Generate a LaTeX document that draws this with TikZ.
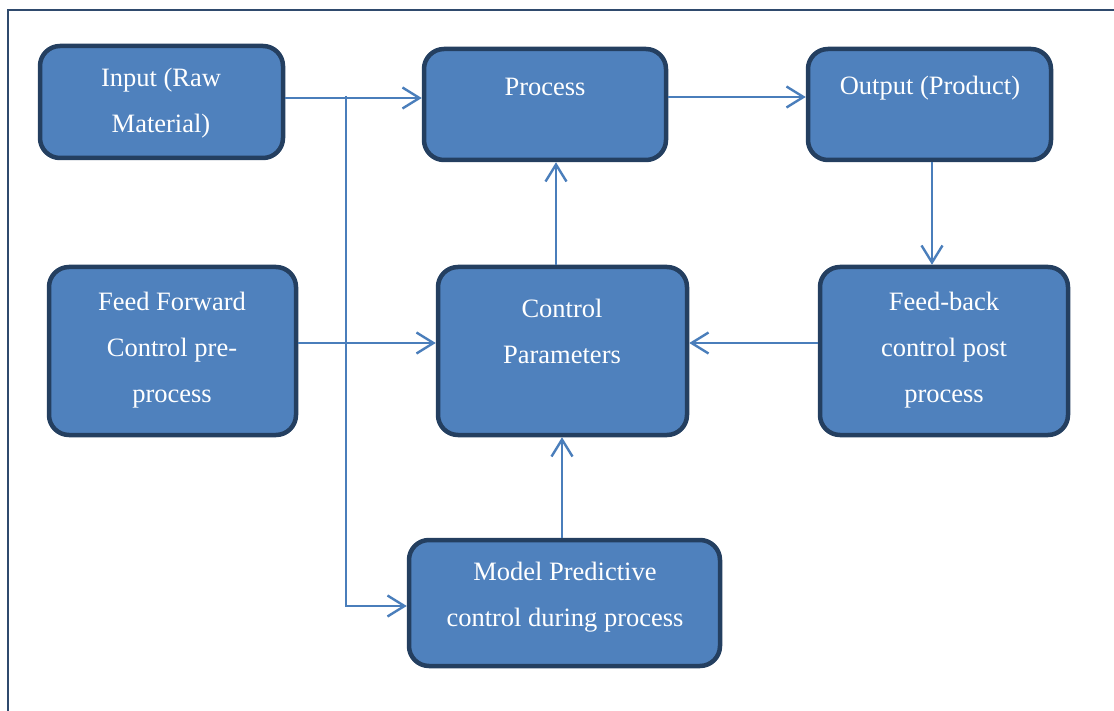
\documentclass[tikz,border=0pt]{standalone}
\usepackage{fontspec}
\setmainfont{Liberation Serif}
\usetikzlibrary{arrows.meta,calc}

\definecolor{boxfill}{HTML}{4F81BD}
\definecolor{boxedge}{HTML}{243F60}
\definecolor{linkcol}{HTML}{4A7EBB}
\definecolor{framecol}{HTML}{2F4A6D}

\tikzset{
  box/.style={draw=boxedge, fill=boxfill, line width=4.5pt, rounded corners=20pt,
              rectangle, inner sep=0pt},
  txt/.style={text=white, align=center, inner sep=0pt,
              font=\fontsize{26.5}{46}\selectfont},
  link/.style={draw=linkcol, line width=2.4pt},
  arr/.style={link, -{Straight Barb[length=17pt, width=21pt, line width=2.4pt]}},
}

\begin{document}
\begin{tikzpicture}[x=1pt, y=-1pt]
\useasboundingbox (0,0) rectangle (1114,711);

% page frame (left and top edges)
\draw[framecol, line width=2pt] (8,711) -- (8,10) -- (1114,10);

% blocks
\node[box, minimum width=243pt, minimum height=112pt] (in)   at (161.5,102)   {};
\node[box, minimum width=242pt, minimum height=111pt] (proc) at (545,104.5)   {};
\node[box, minimum width=243pt, minimum height=111pt] (out)  at (929.5,104.5) {};
\node[box, minimum width=247pt, minimum height=168pt] (ff)   at (172.5,351)   {};
\node[box, minimum width=249pt, minimum height=168pt] (cp)   at (562.5,351)   {};
\node[box, minimum width=248pt, minimum height=168pt] (fb)   at (944,351)     {};
\node[box, minimum width=311pt, minimum height=126pt] (mpc)  at (564.5,603)   {};

% labels
\node[txt] (inT)   at (161,103)  {Input (Raw\\Material)};
\node[txt] (procT) at (545,87)   {Process};
\node[txt] (outT)  at (930,88)   {Output (Product)};
\node[txt] (ffT)   at (172,350)  {Feed Forward\\Control pre-\\process};
\node[txt] (cpT)   at (562,331)  {Control\\Parameters};
\node[txt] (fbT)   at (944,350)  {Feed-back\\control post\\process};
\node[txt] (mpcT)  at (565,597)  {Model Predictive\\control during process};

% connectors
\coordinate (split) at (346,96);
\draw[arr] ([yshift=4pt]in.east) -- ([yshift=4pt]in.east -| proc.west);
\draw[arr] (split) |- ([yshift=-3pt]mpc.west);
\draw[arr] ([yshift=7.5pt]proc.east) -- ([yshift=7.5pt]proc.east -| out.west);
\draw[arr] ([xshift=2.5pt]out.south) -- ([xshift=2.5pt]out.south |- fb.north);
\draw[arr] ([yshift=8pt]fb.west) -- ([yshift=8pt]fb.west -| cp.east);
\draw[arr] ([yshift=8pt]ff.east) -- ([yshift=8pt]ff.east -| cp.west);
\draw[arr] ([xshift=-6.5pt]cp.north) -- ([xshift=-6.5pt]cp.north |- proc.south);
\draw[arr] ([xshift=-2.5pt]mpc.north) -- ([xshift=-2.5pt]mpc.north |- cp.south);
\end{tikzpicture}
\end{document}
